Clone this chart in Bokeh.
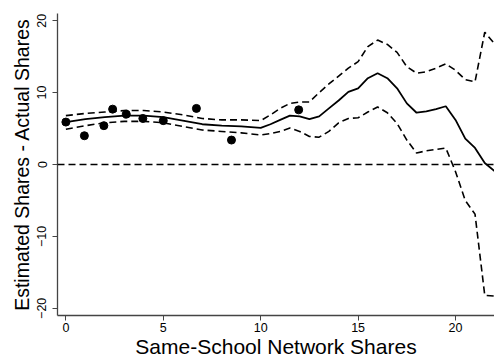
import numpy as np
from bokeh.plotting import figure
from bokeh.models import Span, Range1d, FixedTicker
from bokeh.embed import file_html
from bokeh.resources import INLINE

# Data
grid_x = [0, 1, 2, 3, 4, 5, 6, 7, 8, 9, 10, 10.5, 11, 11.5, 12, 12.5, 13, 13.5, 14,
          14.5, 15, 15.5, 16, 16.5, 17, 17.5, 18, 18.5, 19, 19.5, 20, 20.5, 21, 21.5, 22]
fit = [5.9, 6.3, 6.6, 6.8, 6.8, 6.6, 6.1, 5.6, 5.4, 5.3, 5.1, 5.6, 6.2, 6.8, 6.7, 6.3,
       6.7, 7.8, 8.9, 10.1, 10.6, 12.0, 12.7, 12.0, 10.6, 8.5, 7.2, 7.4, 7.7, 8.1, 6.2,
       3.6, 2.3, 0.2, -0.9]
upper = [6.8, 7.1, 7.3, 7.5, 7.5, 7.3, 6.9, 6.4, 6.2, 6.2, 6.1, 6.9, 7.8, 8.5, 8.7, 8.7,
         10.0, 11.2, 12.3, 13.4, 14.3, 16.4, 17.3, 16.7, 15.6, 13.6, 12.7, 12.9, 13.4,
         14.0, 13.1, 11.8, 11.5, 18.4, 16.8]
lower = [4.9, 5.4, 5.8, 6.0, 6.0, 5.8, 5.3, 4.8, 4.6, 4.4, 4.1, 4.3, 4.6, 5.06, 4.6, 3.9,
         3.8, 4.6, 5.8, 6.4, 6.5, 7.3, 8.0, 7.2, 5.7, 3.4, 1.6, 1.9, 2.1, 2.3, -1.0, -5.0,
         -6.9, -18.2, -18.3]

points_x = [0, 0.95, 1.95, 2.4, 3.1, 3.95, 5.0, 6.7, 8.5, 11.95]
points_y = [5.9, 4.0, 5.4, 7.7, 7.0, 6.4, 6.1, 7.8, 3.4, 7.6]

x_ticks = [0, 5, 10, 15, 20]
y_ticks = [-20, -10, 0, 10, 20]

FONT = "Liberation Sans"

p = figure(width=494, height=360, output_backend="svg", toolbar_location=None,
           x_range=Range1d(-0.43, 22.0), y_range=Range1d(-21, 21),
           min_border_left=57, min_border_right=0, min_border_top=13, min_border_bottom=43)
p.outline_line_color = None
p.xgrid.visible = False
p.ygrid.visible = False
p.background_fill_color = "white"
p.border_fill_color = "white"

p.line(grid_x, upper, line_color="black", line_width=1.6, line_dash="7 4")
p.line(grid_x, lower, line_color="black", line_width=1.6, line_dash="7 4")
p.line(grid_x, fit, line_color="black", line_width=1.8)
p.scatter(points_x, points_y, size=8, fill_color="black", line_color="black")

zero = Span(location=0, dimension="width", line_color="black", line_width=1.3,
            line_dash="7 4")
p.add_layout(zero)

for ax in (p.xaxis[0], p.yaxis[0]):
    ax.axis_line_color = "#444444"
    ax.axis_line_width = 1.3
    ax.major_tick_line_color = "#444444"
    ax.major_tick_out = 5
    ax.major_tick_in = 0
    ax.minor_tick_out = 0
    ax.minor_tick_in = 0
    ax.major_label_text_font = FONT
    ax.major_label_text_font_size = "12.5px"
    ax.major_label_text_color = "black"
    ax.axis_label_text_font = FONT
    ax.axis_label_text_font_style = "normal"
    ax.axis_label_text_color = "black"

p.xaxis.ticker = FixedTicker(ticks=x_ticks)
p.yaxis.ticker = FixedTicker(ticks=y_ticks)
p.xaxis.axis_label = "Same-School Network Shares"
p.yaxis.axis_label = "Estimated Shares - Actual Shares"
p.xaxis.axis_label_text_font_size = "21px"
p.yaxis.axis_label_text_font_size = "19.5px"
p.yaxis.major_label_orientation = "vertical"
p.xaxis.major_label_standoff = 2
p.yaxis.major_label_standoff = 6
p.xaxis.axis_label_standoff = 0
p.yaxis.axis_label_standoff = 2

open("out.html", "w").write(file_html(p, INLINE))
